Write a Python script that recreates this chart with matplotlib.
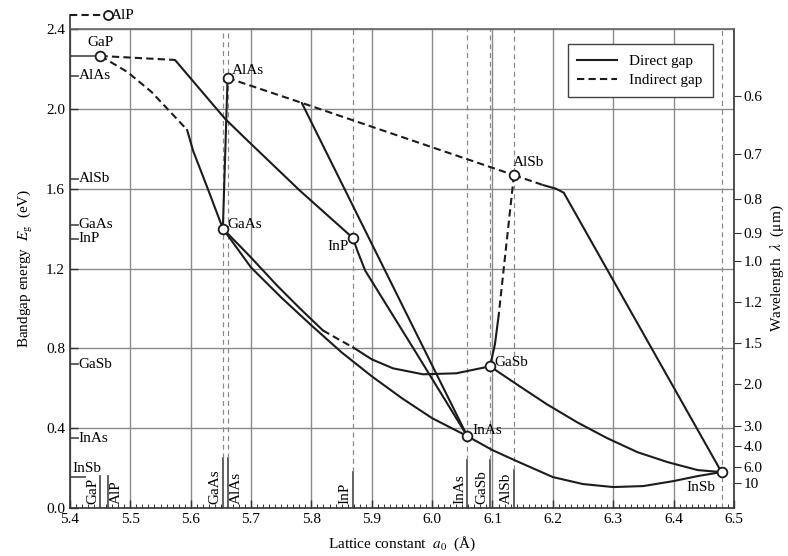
import numpy as np
import matplotlib.pyplot as plt
from matplotlib.lines import Line2D

plt.rcParams['font.family'] = ['Liberation Serif', 'DejaVu Serif']
plt.rcParams['mathtext.fontset'] = 'stix'

# binary compounds: lattice constant (A) and bandgap (eV)
compounds = ['GaP', 'AlAs', 'GaAs', 'InP', 'AlSb', 'GaSb', 'InAs', 'InSb']
comp_a0 = [5.4505, 5.6611, 5.6533, 5.8687, 6.1355, 6.0959, 6.0583, 6.4794]
comp_eg = [2.265, 2.155, 1.40, 1.353, 1.668, 0.71, 0.36, 0.18]
alp_a0, alp_eg = 5.4635, 2.47

# labels on the left edge (energy)
left_names = ['AlAs', 'AlSb', 'GaAs', 'InP', 'GaSb', 'InAs']
left_eg = [2.165, 1.65, 1.42, 1.35, 0.72, 0.35]

# labels on the bottom edge (lattice constant)
bottom_names = ['GaP', 'AlP', 'GaAs', 'AlAs', 'InP', 'InAs', 'GaSb', 'AlSb']
bottom_a0 = [5.4505, 5.4635, 5.6533, 5.6611, 5.8687, 6.0583, 6.0959, 6.1355]
bottom_h = [0.16, 0.16, 0.25, 0.25, 0.18, 0.24, 0.24, 0.19]
bottom_dashed = [False, False, True, True, True, True, True, True]

# right axis: wavelength (um)
wavelengths = [0.6, 0.7, 0.8, 0.9, 1.0, 1.2, 1.5, 2.0, 3.0, 4.0, 6.0, 10]
wl_labels = ['0.6', '0.7', '0.8', '0.9', '1.0', '1.2', '1.5', '2.0', '3.0', '4.0', '6.0', '10']

# ternary curves
gaasp_ind_a = [5.4505, 5.495, 5.535, 5.594]
gaasp_ind_e = [2.265, 2.185, 2.085, 1.895]
gaasp_dir_a = [5.594, 5.604, 5.627, 5.6533]
gaasp_dir_e = [1.895, 1.79, 1.61, 1.40]

gainp_ind_a = [5.4505, 5.574]
gainp_ind_e = [2.265, 2.245]
gainp_dir_a = [5.574, 5.657, 5.698, 5.781, 5.8687]
gainp_dir_e = [2.245, 1.95, 1.83, 1.59, 1.353]

algaas_a = [5.6533, 5.6611]
algaas_e = [1.40, 2.155]

alassb_a = [5.6611, 5.784, 6.1355]
alassb_e = [2.155, 2.03, 1.668]

alinas_a = [5.784, 6.0583]
alinas_e = [2.03, 0.36]

alinsb_ind_a = [6.1355, 6.184]
alinsb_ind_e = [1.668, 1.618]
alinsb_dir_a = [6.184, 6.205, 6.218, 6.4794]
alinsb_dir_e = [1.618, 1.60, 1.58, 0.18]

algasb_ind_a = [6.1355, 6.11]
algasb_ind_e = [1.668, 0.96]
algasb_dir_a = [6.11, 6.104, 6.0959]
algasb_dir_e = [0.96, 0.82, 0.71]

gainsb_a = [6.0959, 6.14, 6.19, 6.24, 6.29, 6.34, 6.39, 6.44, 6.4794]
gainsb_e = [0.71, 0.62, 0.52, 0.43, 0.35, 0.28, 0.23, 0.19, 0.18]

inassb_a = [6.0583, 6.10, 6.14, 6.20, 6.25, 6.30, 6.35, 6.40, 6.44, 6.4794]
inassb_e = [0.36, 0.29, 0.235, 0.155, 0.12, 0.105, 0.11, 0.135, 0.16, 0.18]

gainas_a = [5.6533, 5.70, 5.75, 5.80, 5.85, 5.90, 5.95, 6.00, 6.0583]
gainas_e = [1.40, 1.205, 1.055, 0.915, 0.78, 0.66, 0.55, 0.45, 0.36]

gaassb_dir1_a = [5.6533, 5.70, 5.743, 5.781, 5.819]
gaassb_dir1_e = [1.40, 1.255, 1.115, 1.0, 0.89]
gaassb_ind_a = [5.819, 5.845, 5.869]
gaassb_ind_e = [0.89, 0.845, 0.805]
gaassb_dir2_a = [5.869, 5.90, 5.935, 5.985, 6.04, 6.0959]
gaassb_dir2_e = [0.805, 0.745, 0.70, 0.67, 0.675, 0.71]

inasp_a = [5.8687, 5.876, 5.889, 5.973, 6.0583]
inasp_e = [1.353, 1.29, 1.19, 0.78, 0.36]

direct = [(gaasp_dir_a, gaasp_dir_e), (gainp_dir_a, gainp_dir_e), (algaas_a, algaas_e),
          (alinas_a, alinas_e), (alinsb_dir_a, alinsb_dir_e), (algasb_dir_a, algasb_dir_e),
          (gainsb_a, gainsb_e), (inassb_a, inassb_e), (gainas_a, gainas_e),
          (gaassb_dir1_a, gaassb_dir1_e), (gaassb_dir2_a, gaassb_dir2_e), (inasp_a, inasp_e)]
indirect = [(gaasp_ind_a, gaasp_ind_e), (gainp_ind_a, gainp_ind_e), (alassb_a, alassb_e),
            (alinsb_ind_a, alinsb_ind_e), (algasb_ind_a, algasb_ind_e),
            (gaassb_ind_a, gaassb_ind_e)]

line_col = '#1c1c1c'
grid_col = '#8a8a8a'
ref_col = '#555555'
dash = (0, (3.5, 2))

fig = plt.figure(figsize=(7.88, 5.56), dpi=100)
ax = fig.add_axes([0.0888, 0.0863, 0.8426, 0.8615])

ax.set_xlim(5.4, 6.5)
ax.set_ylim(0, 2.4)
xt = np.arange(5.4, 6.501, 0.1)
ax.set_xticks(xt)
ax.set_xticklabels(['%.1f' % v for v in xt])
ax.set_xticks(np.arange(5.4, 6.501, 0.01), minor=True)
yt = np.arange(0, 2.401, 0.4)
ax.set_yticks(yt)
ax.set_yticklabels(['%.1f' % v for v in yt])
ax.grid(True, color=grid_col, lw=1.0)
ax.set_axisbelow(True)
ax.tick_params(which='major', direction='in', length=6, width=1.0, labelsize=11, color='#333')
ax.tick_params(which='minor', direction='in', length=3, width=0.7, color='#333')
ax.tick_params(axis='y', which='minor', left=False)
for s in ax.spines.values():
    s.set_color('#333')
    s.set_linewidth(1.2)
ax.spines['top'].set_color('#666')

# reference lines for binaries at the bottom
for name, a, h, d in zip(bottom_names, bottom_a0, bottom_h, bottom_dashed):
    ax.plot([a, a], [0, h], color=ref_col, lw=1.3, zorder=2)
    if d:
        ax.plot([a, a], [h, 2.4], color=grid_col, lw=0.9, ls=(0, (4, 3)), zorder=2)
    if name in ('AlAs', 'AlP'):
        ax.text(a + 0.003, 0.02, name, rotation=90, ha='left', va='bottom', fontsize=11)
    else:
        ax.text(a - 0.002, 0.02, name, rotation=90, ha='right', va='bottom', fontsize=11)
ax.plot([comp_a0[-1]] * 2, [0, 2.4], color=grid_col, lw=0.9, ls=(0, (4, 3)), zorder=2)

# labels on left edge
for name, e in zip(left_names, left_eg):
    ax.plot([5.4, 5.413], [e, e], color=ref_col, lw=1.3)
    ax.text(5.414, e, name, ha='left', va='center', fontsize=11)
ax.plot([5.4, 5.425], [0.155, 0.155], color=ref_col, lw=1.3)
ax.text(5.404, 0.20, 'InSb', ha='left', va='center', fontsize=11)
ax.plot([5.4, 5.44], [2.265, 2.265], color=ref_col, lw=1.3)

# curves
for a, e in direct:
    ax.plot(a, e, color=line_col, lw=1.5, solid_capstyle='round', zorder=3)
for a, e in indirect:
    ax.plot(a, e, color=line_col, lw=1.5, ls=dash, zorder=3)

# AlP above the frame
ax.plot([5.4, 5.4], [2.4, alp_eg], color='#333', lw=1.2, clip_on=False)
ax.plot([5.4, alp_a0], [alp_eg, alp_eg], color=line_col, lw=1.5, ls=dash, clip_on=False)
ax.plot(alp_a0, alp_eg, 'o', ms=6.5, mfc='white', mec=line_col, mew=1.3, clip_on=False, zorder=5)
ax.text(alp_a0 + 0.005, alp_eg, 'AlP', ha='left', va='center', fontsize=11)

ax.plot(comp_a0, comp_eg, 'o', ms=7, mfc='white', mec=line_col, mew=1.3, ls='none', zorder=5)

# point labels
ax.text(5.45, 2.33, 'GaP', ha='center', va='center', fontsize=11)
ax.text(5.668, 2.19, 'AlAs', ha='left', va='center', fontsize=11)
ax.text(5.66, 1.42, 'GaAs', ha='left', va='center', fontsize=11)
ax.text(5.862, 1.31, 'InP', ha='right', va='center', fontsize=11)
ax.text(6.134, 1.73, 'AlSb', ha='left', va='center', fontsize=11)
ax.text(6.103, 0.73, 'GaSb', ha='left', va='center', fontsize=11)
ax.text(6.067, 0.39, 'InAs', ha='left', va='center', fontsize=11)
ax.text(6.47, 0.105, 'InSb', ha='right', va='center', fontsize=11)

ax.set_xlabel(r'Lattice constant  $a_0$  (Å)', fontsize=11, labelpad=6)
ax.set_ylabel(r'Bandgap energy  $E_\mathrm{g}$  (eV)', fontsize=11, labelpad=8)

leg = ax.legend(handles=[Line2D([], [], color=line_col, lw=1.5),
                         Line2D([], [], color=line_col, lw=1.5, ls=dash)],
                labels=['Direct gap', 'Indirect gap'], loc='upper right',
                bbox_to_anchor=(0.968, 0.968), borderaxespad=0, fontsize=11,
                fancybox=False, framealpha=1, edgecolor='#444', handlelength=2.6,
                handletextpad=0.8, borderpad=0.65, labelspacing=0.35)
leg.get_frame().set_linewidth(1.0)

ax2 = ax.twinx()
ax2.set_ylim(0, 2.4)
ax2.set_yticks([1.24 / w for w in wavelengths])
ax2.set_yticklabels(wl_labels)
ax2.tick_params(direction='out', length=5, labelsize=11, color='#333', pad=2)
ax2.set_ylabel(r'Wavelength  $\lambda$  (μm)', fontsize=11, rotation=90, labelpad=4)
for s in ax2.spines.values():
    s.set_visible(False)

fig.savefig('out.png', dpi=100)
